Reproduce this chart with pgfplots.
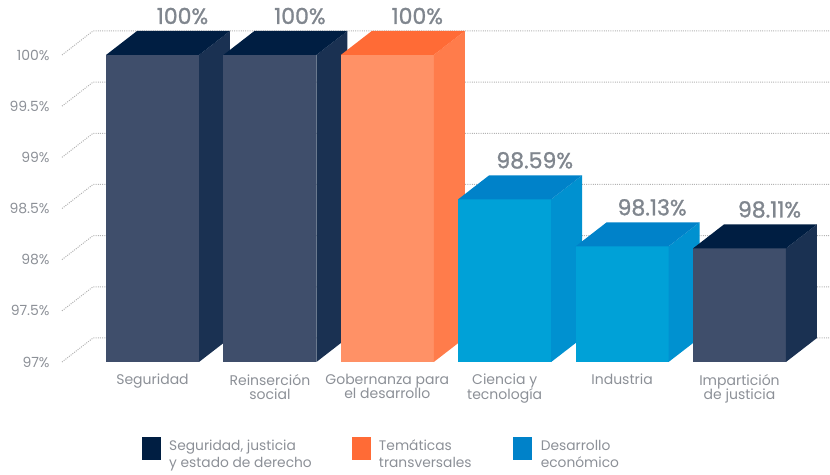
\documentclass[border=0pt]{standalone}
\usepackage{pgfplots}
\pgfplotsset{compat=1.18}
\usepackage{fontspec}
\setmainfont{Poppins}
\newfontfamily\valfont{Poppins}[FakeBold=1.2]

\definecolor{navyF}{HTML}{3F4E6B}
\definecolor{navyS}{HTML}{1A3152}
\definecolor{navyT}{HTML}{001E42}
\definecolor{oraF}{HTML}{FF9166}
\definecolor{oraS}{HTML}{FF7C4B}
\definecolor{oraT}{HTML}{FF6B36}
\definecolor{bluF}{HTML}{00A1D7}
\definecolor{bluS}{HTML}{0091D0}
\definecolor{bluT}{HTML}{0082C9}
\definecolor{gridc}{HTML}{B3B3B3}
\definecolor{txtc}{HTML}{8C9097}
\definecolor{valc}{HTML}{80868E}

\newcommand\hw{0.396}
\newcommand\dX{0.264}
\newcommand\dY{0.2345}

% 3D bar: #1 x, #2 value, #3 front, #4 side, #5 top colour
\newcommand\bartd[5]{%
  \pgfmathsetmacro\xL{#1-\hw}%
  \pgfmathsetmacro\xR{#1+\hw}%
  \pgfmathsetmacro\xLb{#1-\hw+\dX}%
  \pgfmathsetmacro\xRb{#1+\hw+\dX}%
  \pgfmathsetmacro\yB{97+\dY}%
  \pgfmathsetmacro\yT{#2+\dY}%
  \edef\tmp{%
   \noexpand\addplot[fill=#3,draw=none,forget plot] coordinates {(\xL,97) (\xR,97) (\xR,#2) (\xL,#2)};
   \noexpand\addplot[fill=#4,draw=none,forget plot] coordinates {(\xR,97) (\xRb,\yB) (\xRb,\yT) (\xR,#2)};
   \noexpand\addplot[fill=#5,draw=none,forget plot] coordinates {(\xL,#2) (\xR,#2) (\xRb,\yT) (\xLb,\yT)};
  }\tmp
}

\begin{document}
\begin{tikzpicture}
\useasboundingbox (-31pt,-56.5pt) rectangle (384pt,181pt);
\begin{axis}[
  scale only axis,
  width=384pt, height=165.5pt,
  xmin=-0.771, xmax=5.771,
  ymin=97, ymax=100.2345,
  clip=false,
  axis line style={draw=none},
  tick style={draw=none},
  major tick length=0pt,
  ytick={97,97.5,98,98.5,99,99.5,100},
  yticklabels={97\%,97.5\%,98\%,98.5\%,99\%,99.5\%,100\%},
  yticklabel style={anchor=east, inner sep=0pt, xshift=-6pt, font={\fontsize{7}{8}\selectfont}, text=txtc},
  xtick={0,1,2,3,4,5},
  xticklabels={Seguridad,{Reinserción\\social},{Gobernanza para\\el desarrollo},{Ciencia y\\tecnología},Industria,{Impartición\\de justicia}},
  xticklabel style={anchor=north, align=center, inner sep=0pt, yshift=-5.8pt, font={\fontsize{7}{7.3}\selectfont}, text=txtc},
  legend columns=3,
  legend style={at={(0,0)}, anchor=north west, xshift=40pt, yshift=-37.5pt,
    draw=none, fill=none, inner sep=0pt, font={\fontsize{6.9}{8.5}\selectfont}, text=txtc,
    cells={anchor=base west}, nodes={inner sep=0pt}},
]
% gridlines
\addplot[gridc, line width=0.5pt, dash pattern=on 0.5pt off 0.6pt, forget plot] coordinates {(-0.771,97) (-0.507,97.2345) (5.771,97.2345)};
\addplot[gridc, line width=0.5pt, dash pattern=on 0.5pt off 0.6pt, forget plot] coordinates {(-0.771,97.5) (-0.507,97.7345) (5.771,97.7345)};
\addplot[gridc, line width=0.5pt, dash pattern=on 0.5pt off 0.6pt, forget plot] coordinates {(-0.771,98) (-0.507,98.2345) (5.771,98.2345)};
\addplot[gridc, line width=0.5pt, dash pattern=on 0.5pt off 0.6pt, forget plot] coordinates {(-0.771,98.5) (-0.507,98.7345) (5.771,98.7345)};
\addplot[gridc, line width=0.5pt, dash pattern=on 0.5pt off 0.6pt, forget plot] coordinates {(-0.771,99) (-0.507,99.2345) (5.771,99.2345)};
\addplot[gridc, line width=0.5pt, dash pattern=on 0.5pt off 0.6pt, forget plot] coordinates {(-0.771,99.5) (-0.507,99.7345) (5.771,99.7345)};
\addplot[gridc, line width=0.5pt, dash pattern=on 0.5pt off 0.6pt, forget plot] coordinates {(-0.771,100) (-0.507,100.2345) (5.771,100.2345)};
% bars
\bartd{0}{100}{navyF}{navyS}{navyT}
\bartd{1}{100}{navyF}{navyS}{navyT}
\bartd{2}{100}{oraF}{oraS}{oraT}
\bartd{3}{98.59}{bluF}{bluS}{bluT}
\bartd{4}{98.13}{bluF}{bluS}{bluT}
\bartd{5}{98.11}{navyF}{navyS}{navyT}
% value labels
\addplot[draw=none, forget plot, nodes near coords, point meta=explicit symbolic,
  nodes near coords style={anchor=base, xshift=15pt, yshift=15.5pt, font={\valfont\fontsize{11}{13}\selectfont}, text=valc}]
  coordinates {(0,100)[100\%] (1,100)[100\%] (2,100)[100\%] (3,98.59)[98.59\%] (4,98.13)[98.13\%] (5,98.11)[98.11\%]};
% legend
\addlegendimage{legend image code/.code={\fill[navyT] (0pt,-4.5pt) rectangle (9pt,6.5pt);}}
\addlegendentry{\hspace*{4pt}\parbox[t]{91.5pt}{Seguridad, justicia\\y estado de derecho}}
\addlegendimage{legend image code/.code={\fill[oraT] (0pt,-4.5pt) rectangle (9pt,6.5pt);}}
\addlegendentry{\hspace*{4pt}\parbox[t]{67pt}{Temáticas\\transversales}}
\addlegendimage{legend image code/.code={\fill[bluT] (0pt,-4.5pt) rectangle (9pt,6.5pt);}}
\addlegendentry{\hspace*{4.5pt}\parbox[t]{40pt}{Desarrollo\\económico}}
\end{axis}
\end{tikzpicture}
\end{document}
